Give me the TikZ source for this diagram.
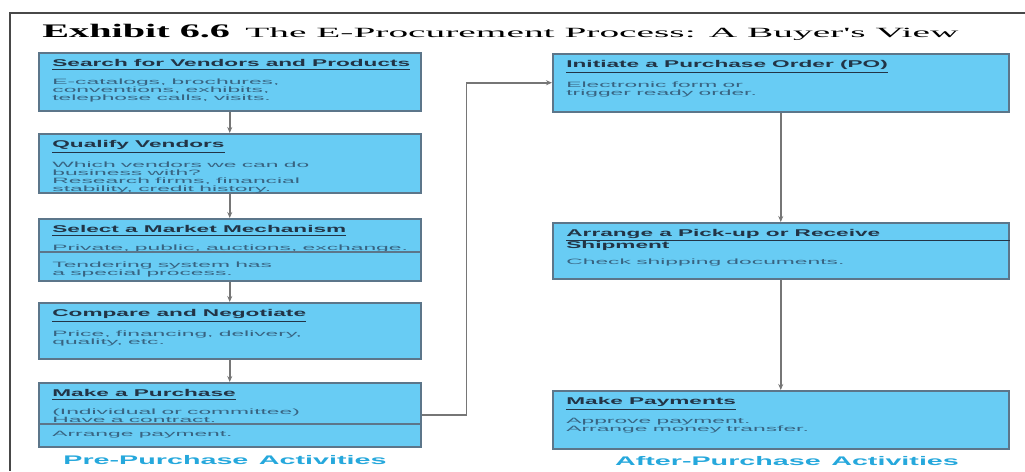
\documentclass[tikz,border=0pt]{standalone}
\usepackage{fontspec}
\setmainfont{Liberation Serif}
\newfontfamily\exhibitfont{Liberation Serif}[FakeStretch=2.1]
\newfontfamily\subtitlefont{Liberation Serif}[FakeStretch=2.8]
\newfontfamily\headfont{Liberation Sans}[FakeStretch=2.3]
\newfontfamily\bodyfont{Liberation Sans}[FakeStretch=2.95]
\usetikzlibrary{positioning}
\usetikzlibrary{calc}
\usetikzlibrary{arrows.meta}
\setlength{\lineskiplimit}{-3pt}

\definecolor{boxblue}{RGB}{104,204,244}
\definecolor{boxedge}{RGB}{92,118,138}
\definecolor{headink}{RGB}{34,52,70}
\definecolor{bodyink}{RGB}{56,100,130}
\definecolor{phaseink}{RGB}{38,168,220}
\definecolor{flowgray}{RGB}{118,118,118}
\definecolor{framegray}{RGB}{72,72,72}

\newcommand{\stepfont}{\headfont\bfseries\fontsize{5.6}{5.6}\selectfont\spaceskip=3.5pt\relax\color{headink}}
\newcommand{\stephead}[1]{{\stepfont\underline{#1}}}
\newcommand{\bodyset}{\bodyfont\fontsize{4.4}{4.55}\selectfont}
\newcommand{\phaseset}{\headfont\bfseries\fontsize{7.1}{7.1}\selectfont\spaceskip=6pt\relax}

\tikzset{
  stage/.style={draw=boxedge, line width=0.3mm, fill=boxblue, anchor=north west, inner sep=0, minimum height=#1},
  leftstage/.style={stage=#1, minimum width=76.4mm},
  rightstage/.style={stage=#1, minimum width=91.2mm},
  stagetext/.style={anchor=north west, inner sep=0, xshift=2.8mm, yshift=-1.4mm, text width=84mm, align=left,
    text=bodyink, font=\bodyset, execute at begin node={\spaceskip=3pt\relax}},
  flow/.style={draw=flowgray, line width=0.3mm, -{Stealth[length=1.2mm,width=1mm]}},
  divider/.style={draw=boxedge, line width=0.25mm},
  phase/.style={font=\phaseset, text=phaseink, inner sep=0}
}

\begin{document}
\begin{tikzpicture}[x=0.2mm, y=-0.2mm]
  \useasboundingbox (0,0) rectangle (1025,471);
  % Frame and title
  \draw[framegray, line width=0.3mm] (1025,13) -- (10,13) -- (10,471);
  \node[anchor=base west, inner sep=0] (exhibit) at (42,37)
    {\exhibitfont\bfseries\fontsize{10.9}{11}\selectfont Exhibit 6.6};
  \node[anchor=base west, inner sep=0] (heading) at (245,37)
    {\subtitlefont\fontsize{8}{8}\selectfont The E-Procurement Process: A Buyer's View};

  % Pre-purchase column
  \node[leftstage=11.6mm] (search) at (38,52) {};
  \node[stagetext] (search-txt) at (search.north west) {\stephead{Search for Vendors and Products}\\[3.8pt]
    E-catalogs, brochures,\\ conventions, exhibits,\\ telephose calls, visits.};
  \node[leftstage=11.8mm] (qualify) at (38,133) {};
  \node[stagetext] (qualify-txt) at (qualify.north west) {\stephead{Qualify Vendors}\\[3.8pt]
    Which vendors we can do\\ business with?\\ Research firms, financial\\ stability, credit history.};
  \node[leftstage=12.4mm] (mechanism) at (38,218) {};
  \node[stagetext] (mechanism-txt) at (mechanism.north west) {\stephead{Select a Market Mechanism}\\[3.8pt]
    Private, public, auctions, exchange.\\[5.1pt] Tendering system has\\ a special process.};
  \node[leftstage=11.2mm] (negotiate) at (38,302) {};
  \node[stagetext] (negotiate-txt) at (negotiate.north west) {\stephead{Compare and Negotiate}\\[3.8pt]
    Price, financing, delivery,\\ quality, etc.};
  \node[leftstage=12.8mm] (purchase) at (38,382) {};
  \node[stagetext] (purchase-txt) at (purchase.north west) {\stephead{Make a Purchase}\\[3.8pt]
    (Individual or committee)\\ Have a contract.\\[3.4pt] Arrange payment.};
  \draw[divider] ([yshift=-6.8mm]mechanism.north west) -- ([yshift=-6.8mm]mechanism.north east);
  \draw[divider] ([yshift=-8.4mm]purchase.north west) -- ([yshift=-8.4mm]purchase.north east);

  % After-purchase column
  \node[rightstage=11.6mm] (order) at (552,53) {};
  \node[stagetext] (order-txt) at (order.north west) {\stephead{Initiate a Purchase Order (PO)}\\[3.8pt]
    Electronic form or\\ trigger ready order.};
  \node[rightstage=11.2mm] (pickup) at (552,222) {};
  \node[stagetext] (pickup-txt) at (pickup.north west) {{\stepfont Arrange a Pick-up or Receive}\\[0.6pt]
    {\stepfont Shipment}\\[4.5pt] Check shipping documents.};
  \node[rightstage=11.6mm] (payments) at (552,390) {};
  \node[stagetext] (payments-txt) at (payments.north west) {\stephead{Make Payments}\\[3.8pt]
    Approve payment.\\ Arrange money transfer.};
  \draw[divider, headink] ([xshift=2.8mm,yshift=-3.7mm]pickup.north west) -- ([yshift=-3.7mm]pickup.north east);

  % Connectors
  \foreach \a/\b in {search/qualify, qualify/mechanism, mechanism/negotiate, negotiate/purchase, order/pickup, pickup/payments}
    \draw[flow] (\a) -- (\b);
  \draw[flow] (purchase.east) -- ++(45,0) |- (order.west);

  % Phase labels
  \node[phase] (pre) at (225,460) {Pre-Purchase Activities};
  \node[phase] (post) at (787,461) {After-Purchase Activities};
\end{tikzpicture}
\end{document}
